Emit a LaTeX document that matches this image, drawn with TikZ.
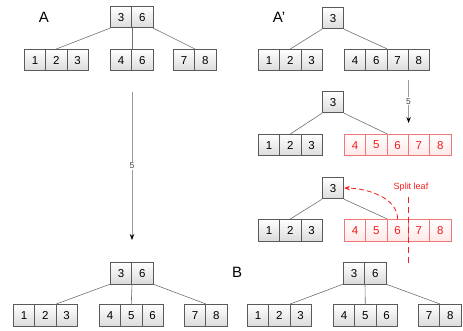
\documentclass[tikz,border=0pt]{standalone}
\usepackage{fontspec}
\setmainfont{Liberation Sans}
\usetikzlibrary{arrows.meta,calc}
\definecolor{edgegray}{HTML}{707070}
\definecolor{boxline}{HTML}{5A5A5A}
\definecolor{redline}{HTML}{F07878}
\definecolor{redtext}{HTML}{F01E1E}
\definecolor{redfill}{HTML}{FFE8E8}
\definecolor{arrgray}{HTML}{9A9A9A}
\tikzset{
  cell/.style={draw=boxline, line width=0.7pt, minimum width=21.3pt, minimum height=21.5pt,
    inner sep=0pt, top color=white, bottom color=black!14, font=\fontsize{11.5}{13}\selectfont,
    anchor=north west},
  redcell/.style={cell, draw=redline, top color=white, bottom color=redfill, text=redtext},
  link/.style={draw=edgegray, line width=0.6pt},
  bigarrow/.style={draw=arrgray, line width=0.8pt, -{Stealth[length=6pt,width=4.5pt,black]}},
  steplabel/.style={fill=white, inner sep=1pt, font=\fontsize{8.5}{10}\selectfont, text=black!75},
  reddash/.style={draw=redtext, line width=0.8pt, dash pattern=on 5pt off 3pt},
  treelabel/.style={font=\fontsize{15}{17}\selectfont},
  redlabel/.style={text=redtext, font=\fontsize{9}{11}\selectfont, inner sep=0pt}
}
\newcommand\mkrow[5]{\foreach \v [count=\i] in {#5}{\node[#4] (#1\i) at ({#2+(\i-1)*21.3},#3) {\v};}}
\begin{document}
\begin{tikzpicture}[x=1pt,y=-1pt]
\useasboundingbox (0,0) rectangle (463,331);
% labels
\node[treelabel] (labA) at (44,17) {A};
\node[treelabel] (labAp) at (279,17) {A’};
\node[treelabel] (labB) at (237,272) {B};
% Tree A
\mkrow{ar}{110}{6}{cell}{3,6}
\mkrow{aa}{24}{49}{cell}{1,2,3}
\mkrow{ab}{110}{49}{cell}{4,6}
\mkrow{ac}{173}{49}{cell}{7,8}
\draw[link] (ar1.south west) -- (aa2.north);
\draw[link] (ar1.south east) -- (ab1.north east);
\draw[link] (ar2.south east) -- (ac1.north east);
% Tree A' (1)
\mkrow{pr}{322}{7}{cell}{3}
\mkrow{pa}{258}{49}{cell}{1,2,3}
\mkrow{pb}{344}{49}{cell}{4,6,7,8}
\draw[link] (pr1.south west) -- (pa2.north);
\draw[link] (pr1.south east) -- (pb2.north east);
% Tree A' (2)
\mkrow{qr}{322}{91}{cell}{3}
\mkrow{qa}{258}{134}{cell}{1,2,3}
\mkrow{qb}{344}{134}{redcell}{4,5,6,7,8}
\draw[link] (qr1.south west) -- (qa2.north);
\draw[link] (qr1.south east) -- (qb2.north east);
% Tree A' (3)
\mkrow{tr}{322}{177}{cell}{3}
\mkrow{ta}{258}{219}{cell}{1,2,3}
\mkrow{tb}{344}{219}{redcell}{4,5,6,7,8}
\draw[link] (tr1.south west) -- (ta2.north);
\draw[link] (tr1.south east) -- (tb2.north east);
% Tree bottom-left
\mkrow{br}{110}{262}{cell}{3,6}
\mkrow{ba}{13}{304}{cell}{1,2,3}
\mkrow{bb}{99}{304}{cell}{4,5,6}
\mkrow{bc}{184}{304}{cell}{7,8}
\draw[link] (br1.south west) -- (ba2.north east);
\draw[link] (br1.south east) -- (bb2.north);
\draw[link] (br2.south east) -- (bc1.north east);
% Tree B
\mkrow{cr}{343}{262}{cell}{3,6}
\mkrow{ca}{247}{304}{cell}{1,2,3}
\mkrow{cb}{333}{304}{cell}{4,5,6}
\mkrow{cc}{418}{304}{cell}{7,8}
\draw[link] (cr1.south west) -- (ca2.north east);
\draw[link] (cr1.south east) -- (cb2.north);
\draw[link] (cr2.south east) -- (cc1.north east);
% big arrow
\coordinate (m1) at ($(ab1.south east)+(0,20.5)$);
\coordinate (m2) at ($(br1.north east)+(0,-22)$);
\draw[bigarrow] (m1) -- node[steplabel] (l5a) {5} (m2);
% small arrow
\coordinate (s1) at ($(pb3.south east)+(0,8.5)$);
\coordinate (s2) at ($(qb3.north east)+(0,-11)$);
\draw[bigarrow] (s1) -- node[steplabel] (l5b) {5} (s2);
% split
\draw[reddash, -{Stealth[length=6pt,width=4.5pt]}] (tb3.north) to[out=90,in=0,looseness=0.9] (tr1.east);
\coordinate (d1) at ($(tb4.north west)+(0,-22)$);
\coordinate (d2) at ($(tb4.south west)+(0,21.5)$);
\draw[reddash, line width=0.6pt, dash pattern=on 6pt off 4pt] (d1) -- (d2);
\node[redlabel] (split) at (411,187) {Split leaf};
\end{tikzpicture}
\end{document}
